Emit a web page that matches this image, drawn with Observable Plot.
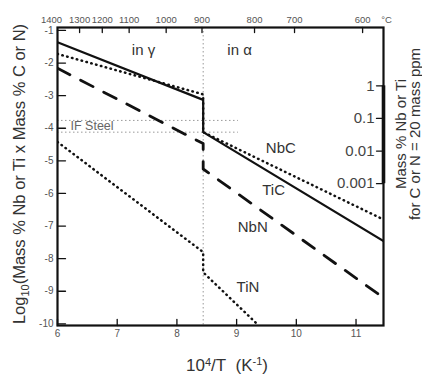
<!DOCTYPE html>
<html><head><meta charset="utf-8">
<script src="https://cdn.jsdelivr.net/npm/d3@7"></script>
<script src="https://cdn.jsdelivr.net/npm/@observablehq/plot@0.6"></script>
<style>body{margin:0;background:#fff}</style>
</head><body><div id="chart"></div>
<script>
// ---- data ----
const xDomain = [6, 11.46];
const yDomain = [-10.05, -0.91];
const xTicks = [6, 7, 8, 9, 10, 11];
const yTicks = [-10, -9, -8, -7, -6, -5, -4, -3, -2, -1];
const topLabels = ["1400", "1300", "1200", "1100", "1000", "900", "800", "700", "600"];
const topTickX = [5.9, 6.37, 6.75, 7.2, 7.82, 8.42, 9.3, 9.97, 11.11];
const unitLabel = "°C";
const unitX = 11.51;
const rightLabels = ["1", "0.1", "0.01", "0.001"];
const rightTickY = [-2.7, -3.7, -4.7, -5.7];
const transitionX = 8.44;
const ifSteelY = [-3.76, -4.12];
const ifSteelXEnd = 9.03;

const ticX = [6, 8.44, 8.44, 11.46];
const ticY = [-1.36, -3.13, -4.12, -7.46];
const nbcX = [6, 8.44, 8.44, 11.46];
const nbcY = [-1.72, -2.96, -4.12, -6.80];
const nbnX = [6, 8.44, 8.44, 11.46];
const nbnY = [-2.16, -4.47, -5.25, -9.2];
const tinX = [6, 8.44, 8.44, 9.37];
const tinY = [-4.42, -7.8, -8.42, -10.05];

const seriesNames = ["NbC", "TiC", "NbN", "TiN"];
const seriesLabelX = [9.74, 9.62, 9.27, 9.19];
const seriesLabelY = [-4.62, -5.91, -7.03, -8.88];
const regionNames = ["in γ", "in α"];
const regionX = [7.44, 9.05];
const regionY = [-1.61, -1.61];

// ---- chart ----
const pts = (xs, ys) => xs.map((x, i) => ({x, y: ys[i]}));
const tickShape = {draw(ctx, l) { ctx.moveTo(0, 0); ctx.lineTo(0, -l); }};
const font = "'Liberation Sans', Arial, Helvetica, sans-serif";
const ink = "#111";
const dotted = {x: "x", y: "y", stroke: ink, strokeWidth: 2.5, strokeDasharray: "0.5,4.5", strokeLinecap: "round", clip: true};

const chart = Plot.plot({
  width: 422, height: 375,
  marginLeft: 57, marginRight: 39, marginTop: 27, marginBottom: 50,
  x: {domain: xDomain, axis: null},
  y: {domain: yDomain, axis: null},
  style: {fontFamily: font, fontSize: "10px", background: "white", color: ink},
  marks: [
    Plot.ruleX([transitionX], {stroke: "#999", strokeWidth: 1, strokeDasharray: "1.5,2.5"}),
    Plot.ruleY(ifSteelY, {x1: () => xDomain[0], x2: () => ifSteelXEnd, stroke: "#999", strokeWidth: 1, strokeDasharray: "1.5,2.5"}),
    Plot.line(pts(nbcX, nbcY), dotted),
    Plot.line(pts(tinX, tinY), dotted),
    Plot.line(pts(nbnX, nbnY), {x: "x", y: "y", stroke: ink, strokeWidth: 2.8, strokeDasharray: "14,12", clip: true}),
    Plot.line(pts(ticX, ticY), {x: "x", y: "y", stroke: ink, strokeWidth: 2.2, clip: true}),
    Plot.frame({stroke: ink, strokeWidth: 2.2}),
    Plot.ruleX([xDomain[1]], {y1: () => rightTickY[0], y2: () => rightTickY[rightTickY.length - 1], stroke: ink, strokeWidth: 3.6}),
    // ticks
    Plot.vector(yTicks, {y: d => d, frameAnchor: "left", rotate: 90, length: 8, anchor: "start", shape: tickShape, stroke: ink, strokeWidth: 1.3}),
    Plot.vector(xTicks, {x: d => d, frameAnchor: "bottom", rotate: 0, length: 6, anchor: "start", shape: tickShape, stroke: ink, strokeWidth: 1.3}),
    Plot.vector(topTickX.filter(v => v > xDomain[0]), {x: d => d, frameAnchor: "top", rotate: 180, length: 5, anchor: "start", shape: tickShape, stroke: ink, strokeWidth: 1.3}),
    Plot.vector(rightTickY, {y: d => d, frameAnchor: "right", rotate: -90, length: 7, anchor: "start", shape: tickShape, stroke: ink, strokeWidth: 1.3}),
    // tick labels
    Plot.text(yTicks, {y: d => d, frameAnchor: "left", dx: -4, textAnchor: "end", text: d => String(d), fill: "#555", fontSize: 10}),
    Plot.text(xTicks, {x: d => d, frameAnchor: "bottom", dy: 11, text: d => String(d), fill: "#555", fontSize: 10}),
    Plot.text(topTickX, {x: d => d, frameAnchor: "top", dy: -11, text: (d, i) => topLabels[i], fill: "#555", fontSize: 9.5}),
    Plot.text([unitX], {x: d => d, frameAnchor: "top", dy: -11, text: () => unitLabel, fill: "#555", fontSize: 9.5}),
    Plot.text(rightTickY, {y: d => d, frameAnchor: "right", dx: -9, textAnchor: "end", text: (d, i) => rightLabels[i], fill: "#444", fontSize: 15}),
    // annotations
    Plot.text(seriesNames, {x: (d, i) => seriesLabelX[i], y: (d, i) => seriesLabelY[i], text: d => d, fill: "#333", fontSize: 15}),
    Plot.text(regionNames, {x: (d, i) => regionX[i], y: (d, i) => regionY[i], text: d => d, fill: "#333", fontSize: 15}),
    Plot.text(["IF Steel"], {x: () => xDomain[0], y: () => (ifSteelY[0] + ifSteelY[1]) / 2, dx: 13, textAnchor: "start", text: d => d, fill: "#666", fontSize: 12.5})
  ]
});

const svg = d3.select(chart);
// left title
const lt = svg.append("text").attr("transform", "translate(25,174) rotate(-90)")
  .attr("text-anchor", "middle").attr("font-size", 16.5).attr("fill", "#333").attr("font-family", font);
lt.append("tspan").text("Log");
lt.append("tspan").attr("font-size", 11).attr("dy", "0.35em").text("10");
lt.append("tspan").attr("dy", "-0.23em").text("(Mass % Nb or Ti x Mass % C or N)");
// bottom title
const bt = svg.append("text").attr("x", 227).attr("y", 371)
  .attr("text-anchor", "middle").attr("font-size", 17).attr("fill", "#333").attr("font-family", font);
bt.append("tspan").text("10");
bt.append("tspan").attr("font-size", 11).attr("dy", "-0.5em").text("4");
bt.append("tspan").attr("dy", "0.32em").text("/T\u00a0\u00a0(K");
bt.append("tspan").attr("font-size", 11).attr("dy", "-0.5em").text("-1");
bt.append("tspan").attr("dy", "0.32em").text(")");
// right title
svg.append("text").attr("transform", "translate(406,134) rotate(-90)")
  .attr("text-anchor", "middle").attr("font-size", 15).attr("fill", "#333").attr("font-family", font)
  .text("Mass % Nb or Ti");
svg.append("text").attr("transform", "translate(420,134) rotate(-90)")
  .attr("text-anchor", "middle").attr("font-size", 15).attr("fill", "#333").attr("font-family", font)
  .text("for C or N = 20 mass ppm");

document.getElementById("chart").appendChild(chart);
</script>
</body></html>
